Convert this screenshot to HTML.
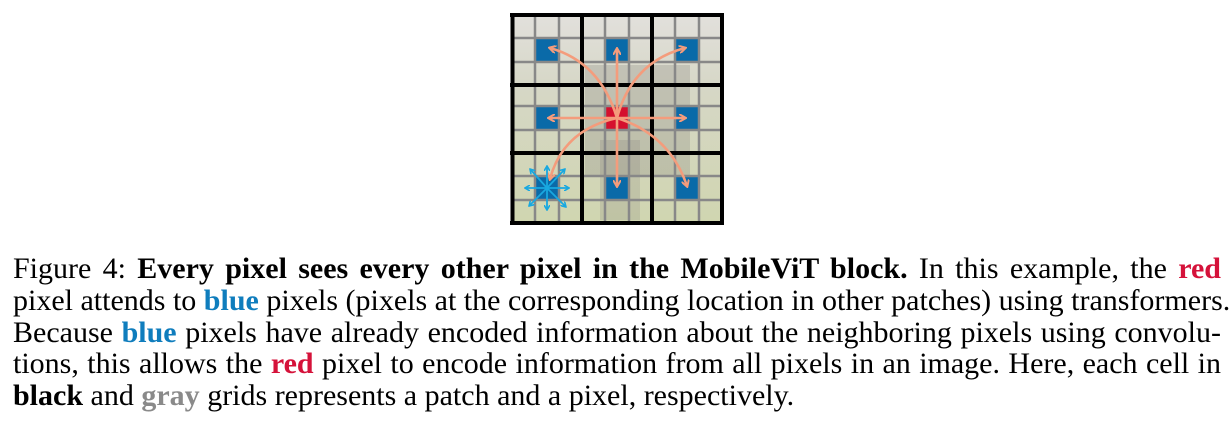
<!DOCTYPE html>
<html><head><meta charset="utf-8"><style>
body{margin:0;width:1229px;height:425px;background:#fff;position:relative;overflow:hidden;font-family:"Liberation Serif",serif;}
.l{position:absolute;left:13px;width:1208px;font-size:30px;line-height:32px;text-align:justify;text-align-last:justify;white-space:nowrap;color:#000}
.last{text-align-last:left}
.b{color:#0f7dbd;font-weight:bold}.r{color:#d5123a;font-weight:bold}.g{color:#8a8a8a;font-weight:bold}
svg{position:absolute;left:0;top:0}
</style></head><body>
<svg width="1229" height="240" viewBox="0 0 1229 240">
<defs>
<marker id="a" markerWidth="8" markerHeight="8" refX="6" refY="4" orient="auto" markerUnits="userSpaceOnUse"><path d="M0,0 L7,4 L0,8" fill="none" stroke="#f49c7c" stroke-width="2"/></marker>
<marker id="c" markerWidth="6" markerHeight="6" refX="5" refY="3" orient="auto" markerUnits="userSpaceOnUse"><path d="M0,0 L5,3 L0,6" fill="none" stroke="#18a8e0" stroke-width="1.6"/></marker>
<linearGradient id="bg" x1="0" y1="0" x2="0" y2="1"><stop offset="0" stop-color="#e2e0dc"/><stop offset="0.35" stop-color="#d6d7c6"/><stop offset="1" stop-color="#d0d6b0"/></linearGradient>
</defs>
<rect x="512" y="15" width="211" height="208" fill="url(#bg)"/>
<rect x="585" y="65" width="105" height="110" fill="#8f8a86" opacity="0.3"/>
<rect x="600" y="140" width="40" height="80" fill="#7d7a74" opacity="0.2"/>
<g fill="#0a6aa8">
<rect x="535" y="38" width="24" height="24"/><rect x="605" y="38" width="24" height="24"/><rect x="675" y="38" width="24" height="24"/>
<rect x="535" y="106" width="24" height="24"/><rect x="675" y="106" width="24" height="24"/>
<rect x="535" y="176" width="24" height="24"/><rect x="605" y="176" width="24" height="24"/><rect x="675" y="176" width="24" height="24"/>
</g>
<rect x="605" y="106" width="24" height="24" fill="#d5102e"/>
<g stroke="#888" stroke-width="2.5">
<line x1="535" y1="13" x2="535" y2="224"/><line x1="559" y1="13" x2="559" y2="224"/>
<line x1="605" y1="13" x2="605" y2="224"/><line x1="629" y1="13" x2="629" y2="224"/>
<line x1="675" y1="13" x2="675" y2="224"/><line x1="699" y1="13" x2="699" y2="224"/>
<line x1="511" y1="38" x2="724" y2="38"/><line x1="511" y1="62" x2="724" y2="62"/>
<line x1="511" y1="106" x2="724" y2="106"/><line x1="511" y1="130" x2="724" y2="130"/>
<line x1="511" y1="176" x2="724" y2="176"/><line x1="511" y1="200" x2="724" y2="200"/>
</g>
<g stroke="#000" stroke-width="4">
<line x1="512.5" y1="13" x2="512.5" y2="225"/><line x1="582" y1="13" x2="582" y2="225"/><line x1="652" y1="13" x2="652" y2="225"/><line x1="722" y1="13" x2="722" y2="225"/>
<line x1="510" y1="15" x2="724" y2="15"/><line x1="510" y1="85" x2="724" y2="85"/><line x1="510" y1="153" x2="724" y2="153"/><line x1="510" y1="223" x2="724" y2="223"/>
</g>
<g stroke="#f49c7c" stroke-width="2.6" fill="none" marker-end="url(#a)">
<line x1="617" y1="118" x2="549" y2="118"/><line x1="617" y1="118" x2="685" y2="118"/>
<line x1="617" y1="118" x2="617" y2="49"/><line x1="617" y1="118" x2="617" y2="186"/>
<path d="M617,118 Q600,62 550,48"/>
<path d="M617,118 Q632,62 685,48"/>
<path d="M617,118 Q670,135 687,186"/>
<path d="M617,118 Q563,130 550,179"/>
</g>
<g stroke="#18a8e0" stroke-width="1.8" marker-end="url(#c)">
<line x1="547" y1="188" x2="525" y2="188"/><line x1="547" y1="188" x2="569" y2="188"/>
<line x1="547" y1="188" x2="547" y2="166"/><line x1="547" y1="188" x2="547" y2="210"/>
<line x1="547" y1="188" x2="530" y2="169"/><line x1="547" y1="188" x2="565" y2="169"/>
<line x1="547" y1="188" x2="529" y2="206"/><line x1="547" y1="188" x2="566" y2="207"/>
</g>
</svg>
<div class="l" style="top:253px">Figure 4: <b>Every pixel sees every other pixel in the MobileViT block.</b> In this example, the <span class="r">red</span></div>
<div class="l" style="top:285px">pixel attends to <span class="b">blue</span> pixels (pixels at the corresponding location in other patches) using transformers.</div>
<div class="l" style="top:317px">Because <span class="b">blue</span> pixels have already encoded information about the neighboring pixels using convolu-</div>
<div class="l" style="top:348px">tions, this allows the <span class="r">red</span> pixel to encode information from all pixels in an image. Here, each cell in</div>
<div class="l last" style="top:380px"><b>black</b> and <span class="g">gray</span> grids represents a patch and a pixel, respectively.</div>
</body></html>
